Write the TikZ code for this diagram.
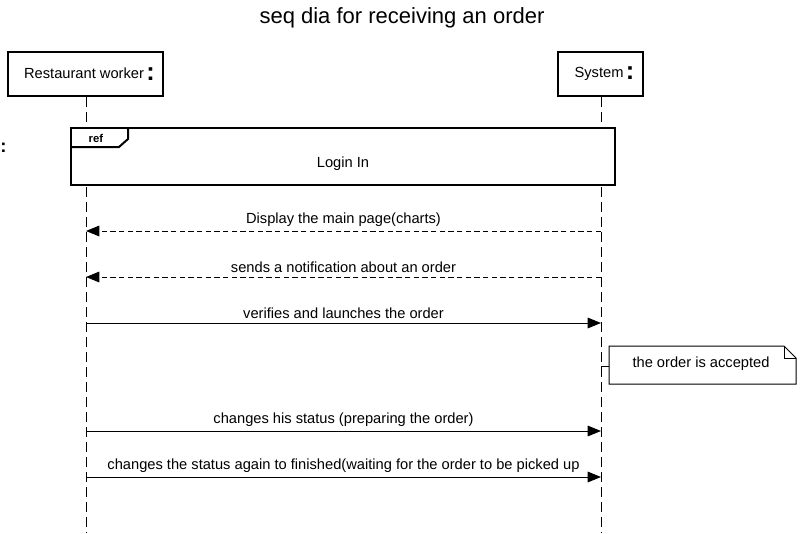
\documentclass[tikz,border=0pt]{standalone}
\usepackage{fontspec}
\setmainfont{Liberation Sans}
\usetikzlibrary{arrows.meta,positioning,calc}
\tikzset{
  headbox/.style={draw, line width=1.5pt, fill=white, inner sep=0pt,
                  minimum height=33pt, font=\fontsize{11}{13}\selectfont},
  lifeline/.style={line width=0.75pt, dash pattern=on 7.5pt off 3.75pt},
  msg/.style={font=\fontsize{11}{13}\selectfont, inner sep=1pt},
  call/.style={-{Triangle[length=10pt, width=8pt]}, line width=0.75pt},
  reply/.style={call, dash pattern=on 4pt off 2.5pt},
  notebox/.style={font=\fontsize{11}{13}\selectfont}}
\newcommand{\bigcolon}{\,{\fontsize{19}{19}\selectfont\textbf{\raisebox{-1.5pt}{:}}}}

\begin{document}
\begin{tikzpicture}[x=0.75pt, y=-0.75pt]
  \useasboundingbox (0,0) rectangle (804,533);
  \node[font=\fontsize{16.5}{19}\selectfont] (title) at (402,18) {seq dia for receiving an order};
  \node[font=\fontsize{14}{14}\selectfont\bfseries, anchor=west, inner sep=0pt] (stray) at (0,148) {:};
  % lifeline heads
  \node[headbox, minimum width=116.25pt] (worker) at (85.5,74) {\hspace{6pt}Restaurant worker\bigcolon};
  \node[headbox, minimum width=63.75pt] (system) at (600.5,74) {\hspace{6pt}System\bigcolon};
  \coordinate (wend) at (86,533);
  \coordinate (send) at (601,533);
  \draw[lifeline] (worker.south -| wend) -- (wend);
  \draw[lifeline] (system.south -| send) -- (send);
  % ref frame
  \node[draw, line width=1.5pt, fill=white, minimum width=408pt, minimum height=42.75pt,
        inner sep=0pt] (ref) at (343,156.5) {};
  \node[font=\fontsize{11}{13}\selectfont] (login) at (343,164) {Login In};
  \draw[line width=1.5pt] (ref.north west) ++(58,0) -- ++(0,12) -- ++(-9,8) -- ++(-49,0);
  \node[font=\fontsize{8.5}{10}\selectfont\bfseries, anchor=west] (reflbl) at (84,138) {ref};
  % messages
  \coordinate (w1) at (86,231); \coordinate (s1) at (601,231);
  \coordinate (w2) at (86,277); \coordinate (s2) at (601,277);
  \coordinate (w3) at (86,323); \coordinate (s3) at (601,323);
  \coordinate (w4) at (86,431); \coordinate (s4) at (601,431);
  \coordinate (w5) at (86,477); \coordinate (s5) at (601,477);
  \draw[reply] (s1) -- node[msg, above=2pt] {Display the main page(charts)} (w1);
  \draw[reply] (s2) -- node[msg, above=2pt] {sends a notification about an order} (w2);
  \draw[call] (w3) -- node[msg, above=2pt] {verifies and launches the order} (s3);
  \draw[call] (w4) -- node[msg, above=2pt] {changes his status (preparing the order)} (s4);
  \draw[call] (w5) -- node[msg, above=2pt] {changes the status again to finished(waiting for the order to be picked up} (s5);
  % note
  \draw[line width=0.75pt, fill=white] (609,346) -- (784,346) -- (796,358) -- (796,384)
        -- (609,384) -- cycle;
  \draw[line width=0.75pt] (784,346) -- (784,358) -- (796,358);
  \node[notebox] (note) at (701,364) {the order is accepted};
  \coordinate (nt) at (601,366);
  \draw[line width=0.75pt] (nt) -- (nt -| 609,0);
\end{tikzpicture}
\end{document}
